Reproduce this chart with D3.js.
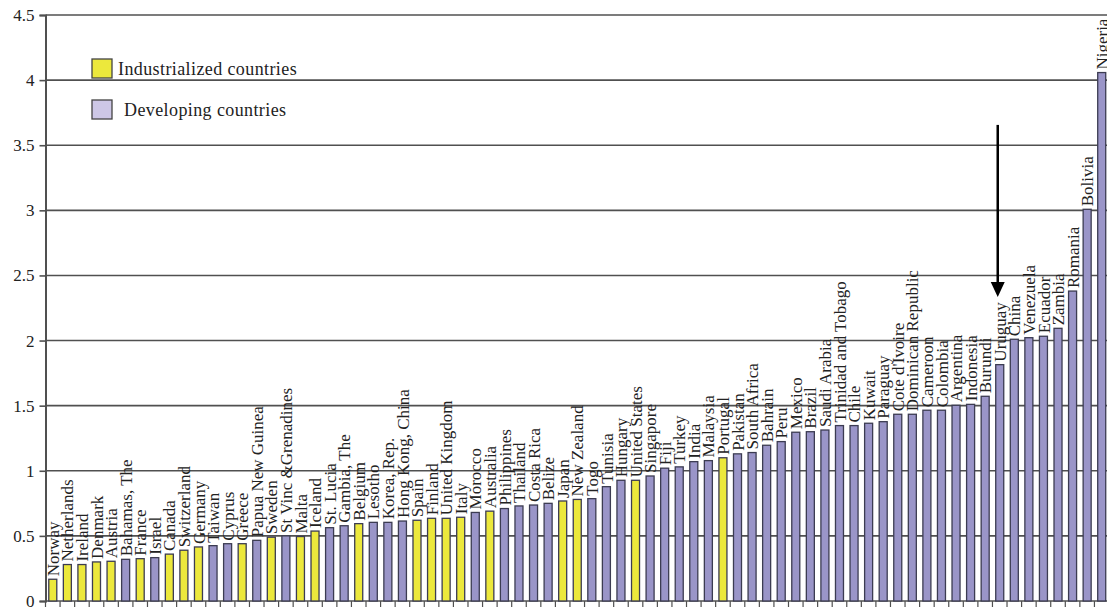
<!DOCTYPE html>
<html>
<head>
<meta charset="utf-8">
<script src="https://cdn.jsdelivr.net/npm/d3@7"></script>
<style>
  body { margin: 0; background: #fff; }
  svg text { font-family: "Liberation Serif", "Times New Roman", serif; }
</style>
</head>
<body>
<div id="chart"></div>
<script>
// countries sorted by value, group: "I" industrialized, "D" developing
const countries = [
    "Norway", "Netherlands", "Ireland", "Denmark", "Austria", "Bahamas, The", "France", "Israel",
    "Canada", "Switzerland", "Germany", "Taiwan", "Cyprus", "Greece", "Papua New Guinea", "Sweden",
    "St Vinc &Grenadines", "Malta", "Iceland", "St. Lucia", "Gambia, The", "Belgium", "Lesotho",
    "Korea, Rep.", "Hong Kong, China", "Spain", "Finland", "United Kingdom", "Italy", "Morocco",
    "Australia", "Philippines", "Thailand", "Costa Rica", "Belize", "Japan", "New Zealand", "Togo",
    "Tunisia", "Hungary", "United States", "Singapore", "Fiji", "Turkey", "India", "Malaysia",
    "Portugal", "Pakistan", "South Africa", "Bahrain", "Peru", "Mexico", "Brazil", "Saudi Arabia",
    "Trinidad and Tobago", "Chile", "Kuwait", "Paraguay", "Cote d'Ivoire", "Dominican Republic",
    "Cameroon", "Colombia", "Argentina", "Indonesia", "Burundi", "Uruguay", "China", "Venezuela",
    "Ecuador", "Zambia", "Romania", "Bolivia", "Nigeria"
];

const values = [
    0.167, 0.28, 0.28, 0.30, 0.305, 0.32, 0.325, 0.333,
    0.36, 0.39, 0.415, 0.425, 0.44, 0.44, 0.466, 0.49,
    0.50, 0.495, 0.537, 0.563, 0.578, 0.594, 0.604,
    0.604, 0.614, 0.62, 0.635, 0.635, 0.643, 0.68,
    0.69, 0.71, 0.73, 0.737, 0.75, 0.768, 0.78, 0.786,
    0.878, 0.927, 0.927, 0.96, 1.02, 1.03, 1.07, 1.078,
    1.10, 1.13, 1.14, 1.196, 1.224, 1.296, 1.30, 1.313,
    1.347, 1.347, 1.365, 1.377, 1.434, 1.434,
    1.465, 1.465, 1.503, 1.51, 1.572, 1.815, 2.01, 2.022,
    2.033, 2.094, 2.38, 3.008, 4.058
];

const groups = [
    "I", "I", "I", "I", "I", "D", "I", "D",
    "I", "I", "I", "D", "D", "I", "D", "I",
    "D", "I", "I", "D", "D", "I", "D",
    "D", "D", "I", "I", "I", "I", "D",
    "I", "D", "D", "D", "D", "I", "I", "D",
    "D", "D", "I", "D", "D", "D", "D", "D",
    "I", "D", "D", "D", "D", "D", "D", "D",
    "D", "D", "D", "D", "D", "D",
    "D", "D", "D", "D", "D", "D", "D", "D",
    "D", "D", "D", "D", "D"
];

const yTicks = [0, 0.5, 1, 1.5, 2, 2.5, 3, 3.5, 4, 4.5];
const legendItems = ["Industrialized countries", "Developing countries"];
// arrow annotation pointing at Uruguay: value range in y units
const arrowCountry = "Uruguay";
const arrowRange = [3.656, 2.335];

const width = 1107;
const height = 607;
const margin = { top: 15, right: -2, bottom: 6, left: 45.5 };

const fillColor = { I: "#ece83c", D: "#9a95c8" };
const legendFill = ["#ece83c", "#cdc7e6"];

const svg = d3.select("#chart")
    .append("svg")
    .attr("width", width)
    .attr("height", height);

const data = countries.map((c, i) => ({ name: c, value: values[i], group: groups[i] }));

const x = d3.scaleBand()
    .domain(countries)
    .range([margin.left, width - margin.right])
    .paddingInner(0.45)
    .paddingOuter(0.225);

const y = d3.scaleLinear()
    .domain([0, 4.5])
    .range([height - margin.bottom, margin.top]);

// gridlines
svg.append("g")
    .selectAll("line")
    .data(yTicks)
    .join("line")
    .attr("x1", margin.left)
    .attr("x2", width)
    .attr("y1", d => y(d))
    .attr("y2", d => y(d))
    .attr("stroke", "#505050")
    .attr("stroke-width", 1.6);

// y axis
const yAxis = svg.append("g")
    .attr("transform", `translate(${margin.left},0)`)
    .call(d3.axisLeft(y).tickValues(yTicks).tickFormat(d => d).tickSize(6).tickPadding(5));
yAxis.select(".domain").attr("stroke", "#505050").attr("stroke-width", 2);
yAxis.selectAll(".tick line").attr("stroke", "#505050").attr("stroke-width", 1.6);
yAxis.selectAll(".tick text")
    .style("font-family", "'Liberation Serif', serif")
    .style("font-size", "17px")
    .attr("fill", "#222");

// x axis ticks at category boundaries
const step = x.step();
const boundaries = d3.range(countries.length + 1).map(i => x.range()[0] + i * step);
svg.append("g")
    .selectAll("line")
    .data(boundaries)
    .join("line")
    .attr("x1", d => d)
    .attr("x2", d => d)
    .attr("y1", y(0))
    .attr("y2", y(0) + 6)
    .attr("stroke", "#505050")
    .attr("stroke-width", 1.2);

// bars
svg.append("g")
    .selectAll("rect")
    .data(data)
    .join("rect")
    .attr("x", d => x(d.name))
    .attr("y", d => y(d.value))
    .attr("width", x.bandwidth())
    .attr("height", d => y(0) - y(d.value))
    .attr("fill", d => fillColor[d.group])
    .attr("stroke", "#3c3c52")
    .attr("stroke-width", 1.3);

// country labels
svg.append("g")
    .selectAll("text")
    .data(data)
    .join("text")
    .attr("transform", d => `translate(${x(d.name) + x.bandwidth() / 2},${y(d.value) - 3}) rotate(-90)`)
    .attr("dy", "0.36em")
    .attr("text-anchor", "start")
    .attr("font-size", 17)
    .attr("fill", "#222")
    .text(d => d.name);

// legend
const legend = svg.append("g");
legendItems.forEach((label, i) => {
    legend.append("rect")
        .attr("x", 92)
        .attr("y", 59 + i * 41)
        .attr("width", 20)
        .attr("height", 19)
        .attr("fill", legendFill[i])
        .attr("stroke", "#444")
        .attr("stroke-width", 1.3);
    legend.append("text")
        .attr("x", i === 0 ? 118 : 124)
        .attr("y", 75 + i * 41)
        .attr("font-size", 18)
        .attr("letter-spacing", 0.4)
        .attr("fill", "#222")
        .text(label);
});

// arrow
const ax = x(arrowCountry) + x.bandwidth() / 2 - 2;
svg.append("line")
    .attr("x1", ax)
    .attr("x2", ax)
    .attr("y1", y(arrowRange[0]))
    .attr("y2", y(arrowRange[1]) - 12)
    .attr("stroke", "#000")
    .attr("stroke-width", 2.5);
svg.append("path")
    .attr("d", `M${ax - 7},${y(arrowRange[1]) - 15} L${ax + 7},${y(arrowRange[1]) - 15} L${ax},${y(arrowRange[1])} Z`)
    .attr("fill", "#000");
</script>
</body>
</html>
